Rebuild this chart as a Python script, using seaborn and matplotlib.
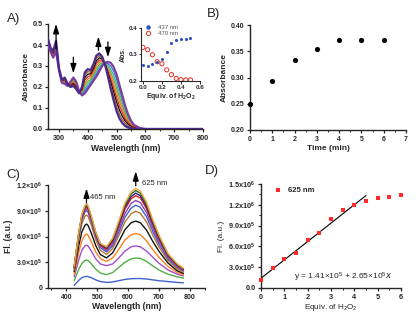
import numpy as np
import pandas as pd
import matplotlib
matplotlib.use("Agg")
import matplotlib.pyplot as plt
import seaborn as sns
from matplotlib.ticker import MultipleLocator, FixedLocator
from matplotlib.lines import Line2D

sns.set_style("ticks")
plt.rcParams['font.family'] = ['Liberation Sans', 'DejaVu Sans']
plt.rcParams['mathtext.default'] = 'regular'
plt.rcParams['axes.linewidth'] = 1.0
plt.rcParams['xtick.major.width'] = 0.9
plt.rcParams['ytick.major.width'] = 0.9
plt.rcParams['xtick.minor.width'] = 0.7
plt.rcParams['ytick.minor.width'] = 0.7
plt.rcParams['xtick.major.size'] = 2.5
plt.rcParams['ytick.major.size'] = 2.5
plt.rcParams['xtick.minor.size'] = 1.5
plt.rcParams['ytick.minor.size'] = 1.5
plt.rcParams['xtick.major.pad'] = 1.5
plt.rcParams['ytick.major.pad'] = 1.5

# ---------------- Panel A: absorption spectra ----------------
wl_a = [262, 270, 280, 290, 300, 310, 320, 330, 340, 350, 360, 370, 380, 390, 400,
        410, 420, 430, 440, 450, 460, 470, 480, 490, 500, 510, 520, 530, 540, 550,
        560, 580, 600, 800]
abs_0 = [0.400, 0.370, 0.340, 0.370, 0.280, 0.220, 0.215, 0.205, 0.225, 0.245, 0.225, 0.180, 0.160, 0.170, 0.190,
         0.210, 0.230, 0.250, 0.275, 0.300, 0.315, 0.320, 0.315, 0.295, 0.260, 0.210, 0.160, 0.110, 0.070, 0.040,
         0.020, 0.005, 0.0, 0.0]
abs_1 = [0.404, 0.373, 0.344, 0.376, 0.281, 0.222, 0.219, 0.206, 0.222, 0.240, 0.221, 0.179, 0.165, 0.183, 0.202,
         0.219, 0.240, 0.263, 0.286, 0.306, 0.314, 0.311, 0.299, 0.275, 0.238, 0.190, 0.144, 0.098, 0.062, 0.035,
         0.018, 0.004, 0.0, 0.0]
abs_2 = [0.408, 0.375, 0.348, 0.383, 0.283, 0.224, 0.223, 0.208, 0.219, 0.235, 0.216, 0.178, 0.170, 0.195, 0.214,
         0.228, 0.250, 0.275, 0.296, 0.311, 0.313, 0.303, 0.284, 0.255, 0.216, 0.170, 0.127, 0.086, 0.054, 0.031,
         0.015, 0.004, 0.0, 0.0]
abs_3 = [0.411, 0.378, 0.351, 0.389, 0.284, 0.226, 0.226, 0.209, 0.216, 0.230, 0.212, 0.176, 0.175, 0.208, 0.226,
         0.236, 0.260, 0.288, 0.307, 0.317, 0.311, 0.294, 0.268, 0.235, 0.194, 0.150, 0.111, 0.074, 0.046, 0.026,
         0.013, 0.003, 0.0, 0.0]
abs_4 = [0.415, 0.380, 0.355, 0.395, 0.285, 0.228, 0.230, 0.210, 0.213, 0.225, 0.208, 0.175, 0.180, 0.220, 0.238,
         0.245, 0.270, 0.300, 0.318, 0.323, 0.310, 0.285, 0.253, 0.215, 0.173, 0.130, 0.094, 0.062, 0.039, 0.022,
         0.010, 0.003, 0.0, 0.0]
abs_5 = [0.419, 0.383, 0.359, 0.401, 0.286, 0.229, 0.234, 0.211, 0.209, 0.220, 0.203, 0.174, 0.185, 0.233, 0.249,
         0.254, 0.280, 0.313, 0.328, 0.328, 0.309, 0.276, 0.237, 0.195, 0.151, 0.110, 0.078, 0.050, 0.031, 0.017,
         0.008, 0.002, 0.0, 0.0]
abs_6 = [0.423, 0.385, 0.363, 0.408, 0.288, 0.231, 0.238, 0.213, 0.206, 0.215, 0.199, 0.173, 0.190, 0.245, 0.261,
         0.263, 0.290, 0.325, 0.339, 0.334, 0.308, 0.268, 0.221, 0.175, 0.129, 0.090, 0.061, 0.038, 0.023, 0.012,
         0.005, 0.001, 0.0, 0.0]
abs_7 = [0.426, 0.388, 0.366, 0.414, 0.289, 0.233, 0.241, 0.214, 0.203, 0.210, 0.194, 0.171, 0.195, 0.258, 0.273,
         0.271, 0.300, 0.338, 0.349, 0.339, 0.306, 0.259, 0.206, 0.155, 0.107, 0.070, 0.045, 0.026, 0.015, 0.008,
         0.003, 0.001, 0.0, 0.0]
abs_8 = [0.430, 0.390, 0.370, 0.420, 0.290, 0.235, 0.245, 0.215, 0.200, 0.205, 0.190, 0.170, 0.200, 0.270, 0.285,
         0.280, 0.310, 0.350, 0.360, 0.345, 0.305, 0.250, 0.190, 0.135, 0.085, 0.050, 0.028, 0.014, 0.007, 0.003,
         0.0, 0.0, 0.0, 0.0]
abs_curves = [abs_0, abs_1, abs_2, abs_3, abs_4, abs_5, abs_6, abs_7, abs_8]
abs_colors = ['#7b3fa0', '#3f6fd0', '#3fb0a0', '#60b040', '#f08020', '#e03030', '#000000', '#a06020', '#4b2a8a']
abs_widths = [1.6, 0.9, 0.9, 0.9, 0.9, 0.9, 0.9, 0.9, 1.6]

# Inset of A
equiv_in = [0.0, 0.05, 0.1, 0.15, 0.2, 0.25, 0.3, 0.35, 0.4, 0.45, 0.5]
abs437 = [0.260, 0.256, 0.263, 0.273, 0.284, 0.311, 0.342, 0.354, 0.360, 0.360, 0.361]
abs470 = [0.327, 0.318, 0.299, 0.273, 0.265, 0.242, 0.224, 0.210, 0.205, 0.204, 0.204]

# ---------------- Panel B ----------------
time_min = [0, 1, 2, 3, 4, 5, 6]
abs_time = [0.249, 0.293, 0.334, 0.354, 0.371, 0.371, 0.372]

# ---------------- Panel C: fluorescence spectra (x1e5) ----------------
wl_c = [425, 440, 450, 460, 465, 470, 480, 495, 510, 530, 550, 570, 590, 610, 625, 640, 660, 680, 700, 730, 760, 780]
fl_1 = [0.30, 0.90, 1.20, 1.33, 1.35, 1.33, 1.20, 0.95, 0.75, 0.65, 0.70, 0.85, 1.00, 1.08, 1.10, 1.10, 1.05, 0.95, 0.85, 0.75, 0.65, 0.60]
fl_2 = [0.85, 2.20, 2.85, 3.20, 3.25, 3.20, 2.85, 2.20, 1.75, 1.55, 1.80, 2.40, 3.00, 3.40, 3.50, 3.45, 3.10, 2.60, 2.10, 1.60, 1.30, 1.15]
fl_3 = [1.30, 3.30, 4.40, 4.90, 5.00, 4.90, 4.35, 3.40, 2.80, 2.60, 2.80, 3.50, 4.30, 4.80, 4.90, 4.80, 4.30, 3.60, 2.90, 2.10, 1.60, 1.40]
fl_4 = [1.60, 4.20, 5.50, 6.15, 6.30, 6.15, 5.45, 4.20, 3.40, 3.10, 3.50, 4.50, 5.60, 6.20, 6.35, 6.20, 5.50, 4.50, 3.60, 2.50, 1.80, 1.55]
fl_5 = [1.90, 4.95, 6.55, 7.30, 7.45, 7.30, 6.45, 4.95, 3.90, 3.50, 4.10, 5.40, 6.80, 7.60, 7.80, 7.60, 6.75, 5.45, 4.30, 2.90, 2.00, 1.70]
fl_6 = [2.15, 5.65, 7.50, 8.35, 8.50, 8.35, 7.40, 5.65, 4.40, 3.90, 4.60, 6.10, 7.70, 8.65, 8.95, 8.70, 7.70, 6.20, 4.80, 3.20, 2.20, 1.85]
fl_7 = [2.30, 6.00, 7.90, 8.85, 9.00, 8.85, 7.80, 6.00, 4.70, 4.20, 4.90, 6.50, 8.25, 9.30, 9.65, 9.40, 8.30, 6.65, 5.15, 3.40, 2.40, 2.00]
fl_8 = [2.35, 6.15, 8.10, 9.05, 9.25, 9.05, 8.00, 6.15, 4.90, 4.40, 5.15, 6.90, 8.70, 9.85, 10.20, 9.95, 8.80, 7.05, 5.45, 3.60, 2.50, 2.05]
fl_9 = [2.40, 6.30, 8.30, 9.25, 9.45, 9.25, 8.20, 6.30, 5.00, 4.55, 5.40, 7.25, 9.20, 10.40, 10.75, 10.50, 9.25, 7.40, 5.75, 3.75, 2.60, 2.15]
fl_10 = [2.45, 6.35, 8.45, 9.40, 9.60, 9.40, 8.35, 6.40, 5.10, 4.65, 5.55, 7.45, 9.45, 10.65, 11.05, 10.75, 9.50, 7.60, 5.90, 3.85, 2.70, 2.20]
fl_11 = [2.50, 6.45, 8.50, 9.50, 9.70, 9.50, 8.40, 6.45, 5.15, 4.75, 5.70, 7.65, 9.70, 10.95, 11.35, 11.05, 9.80, 7.80, 6.05, 3.90, 2.75, 2.25]
fl_12 = [2.50, 6.50, 8.60, 9.60, 9.80, 9.60, 8.50, 6.50, 5.20, 4.80, 5.80, 7.80, 9.90, 11.20, 11.60, 11.30, 10.00, 8.00, 6.20, 4.00, 2.80, 2.30]
fl_curves = [fl_1, fl_2, fl_3, fl_4, fl_5, fl_6, fl_7, fl_8, fl_9, fl_10, fl_11, fl_12]
fl_colors = ['#4060d0', '#50b040', '#a050c8', '#ff7f20', '#111111', '#b8782a',
             '#4060d0', '#9040b0', '#d62020', '#3b2070', '#2e6b30', '#f4a640']

# ---------------- Panel D ----------------
equiv_d = [0, 0.5, 1.0, 1.5, 2.0, 2.5, 3.0, 3.5, 4.0, 4.5, 5.0, 5.5, 6.0]
fl625 = [1.20e5, 2.90e5, 4.15e5, 5.07e5, 6.86e5, 7.97e5, 9.90e5, 1.13e6, 1.19e6, 1.26e6, 1.30e6, 1.31e6, 1.34e6]
fit_coef = [1.41e5, 2.65e5]   # intercept, slope (from the equation in the chart)
fit_x = [0.0, 4.5]

W, H = 418, 321
fig = plt.figure(figsize=(W / 100, H / 100), dpi=100)

def box(l, r, t, b):
    return [l / W, 1 - b / H, (r - l) / W, (b - t) / H]

bold = dict(fontweight='bold')

# ---- A ----
axA = fig.add_axes(box(48, 203, 24, 129))
for i, (c, col, lw) in enumerate(zip(abs_curves, abs_colors, abs_widths)):
    d = pd.DataFrame({'wl': wl_a, 'abs': c})
    sns.lineplot(data=d, x='wl', y='abs', color=col, linewidth=lw, ax=axA,
                 estimator=None, zorder=3 if lw > 1 else 2)
axA.set_xlim(262, 800)
axA.set_ylim(0, 0.5)
axA.set_xticks([300, 400, 500, 600, 700, 800])
axA.xaxis.set_minor_locator(MultipleLocator(50))
axA.set_yticks([0, 0.1, 0.2, 0.3, 0.4, 0.5])
axA.set_yticklabels(['0.0', '0.1', '0.2', '0.3', '0.4', '0.5'])
axA.tick_params(labelsize=5.2)
for lab in axA.get_xticklabels() + axA.get_yticklabels():
    lab.set_fontweight('bold')
axA.set_xlabel('Wavelength (nm)', fontsize=6.2, labelpad=2, **bold)
axA.set_ylabel('Absorbance', fontsize=6.0, labelpad=2, **bold)
sns.despine(ax=axA)
arrow_kw = dict(arrowstyle='-|>,head_length=0.7,head_width=0.22', color='k', lw=0.9,
                shrinkA=0, shrinkB=0, mutation_scale=8)
axA.annotate('', xy=(290, 0.50), xytext=(290, 0.38), arrowprops=arrow_kw, annotation_clip=False)
axA.annotate('', xy=(350, 0.265), xytext=(350, 0.342), arrowprops=arrow_kw)
axA.annotate('', xy=(437, 0.44), xytext=(437, 0.375), arrowprops=arrow_kw)
axA.annotate('', xy=(470, 0.342), xytext=(470, 0.415), arrowprops=arrow_kw)

# inset
axI = fig.add_axes(box(141, 200, 28, 81))
axI.patch.set_alpha(0)
sns.scatterplot(x=equiv_in, y=abs437, color='#3050c0', s=5, linewidth=0, ax=axI, zorder=3)
sns.scatterplot(x=equiv_in, y=abs470, color='#e03020', s=9, linewidth=0.7, ax=axI, zorder=2)
coll = axI.collections[-1]
coll.set_facecolor('none')
coll.set_edgecolor('#e03020')
axI.set_xlim(-0.02, 0.6)
axI.set_ylim(0.2, 0.4)
axI.set_xticks([0.0, 0.2, 0.4, 0.6])
axI.set_xticklabels(['0.0', '0.2', '0.4', '0.6'])
axI.set_yticks([0.2, 0.3, 0.4])
axI.set_yticklabels(['0.2', '0.3', '0.4'])
axI.tick_params(labelsize=4.5, length=1.8, width=0.7, pad=1)
for lab in axI.get_xticklabels() + axI.get_yticklabels():
    lab.set_fontweight('bold')
for s in ['left', 'bottom']:
    axI.spines[s].set_linewidth(0.8)
axI.set_xlabel('Equiv. of H$_2$O$_2$', fontsize=5.0, labelpad=1, **bold)
axI.set_ylabel('Abs.', fontsize=5.0, labelpad=1, **bold)
sns.despine(ax=axI)
hI = [Line2D([], [], marker='o', ls='none', color='#3050c0', ms=2.2),
      Line2D([], [], marker='o', ls='none', mfc='none', mec='#e03020', mew=0.7, ms=3)]
axI.legend(hI, ['437 nm', '470 nm'], loc='upper left', bbox_to_anchor=(0.02, 1.12),
           frameon=False, fontsize=4.3, handlelength=0.8, handletextpad=1.2,
           labelspacing=0.1, borderpad=0.1, labelcolor='#555555')

# ---- B ----
axB = fig.add_axes(box(250, 406, 25, 130))
sns.scatterplot(x=time_min, y=abs_time, color='black', s=14, linewidth=0, ax=axB, clip_on=False, zorder=3)
axB.set_xlim(0, 7)
axB.set_ylim(0.2, 0.4)
axB.set_xticks(range(0, 8))
axB.xaxis.set_minor_locator(MultipleLocator(0.5))
axB.set_yticks([0.20, 0.25, 0.30, 0.35, 0.40])
axB.set_yticklabels(['0.20', '0.25', '0.30', '0.35', '0.40'])
axB.tick_params(labelsize=5.0)
for lab in axB.get_xticklabels() + axB.get_yticklabels():
    lab.set_fontweight('bold')
axB.set_xlabel('Time (min)', fontsize=6.0, labelpad=2, **bold)
axB.set_ylabel('Absorbance', fontsize=6.0, labelpad=2, **bold)
sns.despine(ax=axB)

# ---- C ----
axC = fig.add_axes(box(48, 205, 185, 288))
for c, col in zip(fl_curves, fl_colors):
    d = pd.DataFrame({'wl': wl_c, 'fl': np.array(c) * 1e5})
    sns.lineplot(data=d, x='wl', y='fl', color=col, linewidth=1.0, ax=axC, estimator=None, clip_on=False)
axC.set_xlim(340, 850)
axC.set_ylim(0, 1.2e6)
axC.set_xticks([400, 500, 600, 700, 800])
axC.xaxis.set_minor_locator(MultipleLocator(50))
axC.set_yticks([0, 3e5, 6e5, 9e5, 1.2e6])
axC.set_yticklabels(['0', '3.0×10$^5$', '6.0×10$^5$', '9.0×10$^5$', '1.2×10$^6$'])
axC.tick_params(labelsize=5.0)
for lab in axC.get_xticklabels() + axC.get_yticklabels():
    lab.set_fontweight('bold')
axC.set_xlabel('Wavelength (nm)', fontsize=6.2, labelpad=1, **bold)
axC.set_ylabel('Fl. (a.u.)', fontsize=6.2, labelpad=2, **bold)
sns.despine(ax=axC)
axC.annotate('', xy=(465, 1.16e6), xytext=(465, 0.99e6), arrowprops=arrow_kw, annotation_clip=False)
axC.text(478, 1.05e6, '465 nm', fontsize=5.5, va='center', ha='left')
axC.annotate('', xy=(625, 1.36e6), xytext=(625, 1.19e6), arrowprops=arrow_kw, annotation_clip=False)
axC.text(645, 1.22e6, '625 nm', fontsize=5.5, va='center', ha='left')

# ---- D ----
axD = fig.add_axes(box(261, 401, 184, 288))
sns.scatterplot(x=equiv_d, y=fl625, color='#ff2a2a', marker='s', s=5, linewidth=0,
                ax=axD, clip_on=False, zorder=3, label='625 nm')
fit_y = [fit_coef[0] + fit_coef[1] * xx for xx in fit_x]
sns.lineplot(x=fit_x, y=fit_y, color='black', linewidth=0.8, ax=axD, zorder=2)
axD.set_xlim(0, 6)
axD.set_ylim(0, 1.5e6)
axD.set_xticks(range(0, 7))
axD.xaxis.set_minor_locator(MultipleLocator(0.5))
axD.set_yticks([0, 3e5, 6e5, 9e5, 1.2e6, 1.5e6])
axD.yaxis.set_minor_locator(MultipleLocator(1.5e5))
axD.set_yticklabels(['0.0', '3.0x10$^5$', '6.0x10$^5$', '9.0x10$^5$', '1.2x10$^6$', '1.5x10$^6$'])
axD.tick_params(labelsize=5.3)
for lab in axD.get_xticklabels() + axD.get_yticklabels():
    lab.set_fontweight('bold')
axD.set_xlabel('Equiv. of H$_2$O$_2$', fontsize=5.8, labelpad=1)
axD.set_ylabel('Fl. (a.u.)', fontsize=6.0, labelpad=2)
sns.despine(ax=axD)
axD.legend(loc='upper left', bbox_to_anchor=(0.02, 1.04), frameon=False,
           handletextpad=0.3, markerscale=1.0, prop={'weight': 'bold', 'size': 5.5})
axD.text(1.4, 1.6e5, 'y = 1.41×10$^5$ + 2.65×10$^5$$\\it{x}$', fontsize=6.0, va='center', ha='left')

# panel letters
fig.text(14 / W, 1 - 19 / H, 'A)', fontsize=9.5, ha='center', va='center')
fig.text(213 / W, 1 - 14 / H, 'B)', fontsize=9.5, ha='center', va='center')
fig.text(13 / W, 1 - 175 / H, 'C)', fontsize=9.5, ha='center', va='center')
fig.text(212 / W, 1 - 171 / H, 'D)', fontsize=9.5, ha='center', va='center')

fig.savefig('out.png', dpi=100)
